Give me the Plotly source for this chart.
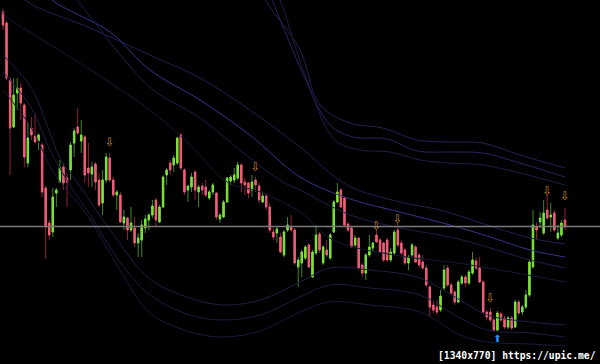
import plotly.graph_objects as go

# Candle values (price units; the y axis runs top-down)
bar = list(range(159))
open_ = [12,23,80,127,93,88,105,163,128,136,141,145,188,223,232,193,182,167,178,170,
         143,127,141,137,168,174,164,180,203,180,158,180,195,195,223,218,230,228,243,240,
         228,220,215,200,222,207,175,163,165,163,135,170,190,187,172,192,186,187,198,192,
         193,219,217,202,181,180,178,165,182,183,190,180,186,202,196,207,232,233,237,255,
         230,227,230,267,263,258,245,277,253,234,263,250,258,232,202,190,198,224,228,245,
         238,265,273,255,248,235,240,243,240,260,253,230,243,250,263,255,247,255,262,268,
         287,305,307,310,288,268,285,292,302,283,277,283,273,261,268,282,312,312,320,330,
         314,318,327,318,327,302,312,307,295,267,227,222,233,210,217,213,238,235,220]
close = [25,78,128,95,88,103,157,138,135,142,135,192,227,235,197,190,168,183,182,145,
         131,133,135,175,173,167,182,205,180,157,180,195,192,222,217,230,223,243,238,225,
         219,215,206,220,207,177,170,170,158,138,168,192,186,177,190,187,190,195,192,185,
         217,215,202,178,177,175,165,183,185,193,182,185,200,196,207,230,237,229,252,232,
         225,230,263,260,252,247,267,252,235,250,247,255,235,202,192,207,225,230,247,238,
         268,273,255,247,243,242,252,260,260,252,232,245,253,263,257,245,262,265,268,285,
         307,310,312,296,270,285,293,302,282,277,283,272,260,268,282,312,317,320,330,313,
         320,327,318,328,302,313,307,295,262,225,230,218,213,218,215,230,233,223,227]
high = [9,21,77,78,78,83,103,122,117,113,133,143,186,220,188,188,160,163,173,142,
        128,108,120,135,143,162,162,173,170,153,153,177,190,192,210,217,207,217,233,220,
        215,213,200,198,205,175,168,160,155,137,133,168,185,173,170,185,183,180,190,183,
        192,213,200,177,175,168,162,163,178,182,175,177,183,192,193,203,228,227,233,230,
        217,215,228,257,250,245,243,250,225,232,245,240,233,200,183,188,197,222,227,235,
        237,263,253,235,242,230,238,242,238,248,230,223,240,248,255,243,245,253,255,265,
        285,302,300,290,265,265,283,290,280,275,275,270,252,258,257,280,310,308,318,311,
        312,316,316,316,300,300,305,290,260,210,222,212,200,195,203,210,225,220,208]
low = [30,80,175,128,110,120,167,167,140,143,150,197,259,240,237,207,183,190,207,180,
       157,135,153,183,187,187,190,207,215,183,182,197,210,223,230,240,232,247,257,257,
       233,230,218,227,223,208,185,175,172,165,170,195,202,192,200,207,195,197,200,195,
       220,223,218,203,185,183,180,192,195,198,197,192,203,203,210,233,240,243,253,257,
       232,232,265,287,277,260,268,278,255,253,265,257,260,233,203,208,227,232,248,247,
       270,277,280,257,252,243,253,262,262,262,255,247,255,265,270,257,263,268,270,287,
       317,313,315,312,290,287,295,305,303,285,287,285,275,270,283,313,320,322,332,332,
       322,329,329,330,328,315,315,309,297,268,240,228,235,220,232,232,240,237,230]

# Signal arrows (bar index, level)
sell_bar = [30, 71, 105, 111, 137, 153, 158]
sell_lvl = [143, 168, 227, 220, 299, 192, 197]
buy_bar = [139]
buy_lvl = [339]

# Reference level line
ref_level = 226.5

# Band lines (bar index, level)
A1_i = [70.8, 73.7, 83.5, 89.1, 97.6, 106.8, 116.4, 125.7, 134.9, 145.3, 158]
A1_y = [-20, 0, 50, 105, 123, 128, 140, 142, 143, 155, 168]
A2_i = [72.8, 75.6, 83.5, 91.9, 98.4, 108, 116.4, 125.7, 134.9, 145.3, 158]
A2_y = [-20, 0, 67, 125, 137, 139, 151, 152, 153, 163, 177]
A3_i = [75.1, 77.9, 84.9, 93.3, 100.4, 108.8, 117.2, 125.7, 134.9, 145.3, 158]
A3_y = [-20, 0, 75, 140, 150, 152, 160, 163, 165, 173, 185]

B1_i = [2, 6.2, 24.5, 41.3, 55.4, 69.4, 83.5, 96.7, 111.6, 122.9, 136.1, 148.2, 158]
B1_y = [-20, 0, 28, 55, 78, 110, 147, 185, 202, 210, 225, 238, 244]
B2_i = [9, 13.8, 30.1, 41.3, 55.4, 69.4, 83.5, 97.6, 111.6, 125.7, 136.1, 148.2, 158]
B2_y = [-20, 0, 32, 70, 100, 135, 177, 199, 212, 225, 236, 250, 257]
B3_i = [16, 20.8, 41.3, 55.4, 69.4, 78.7, 83.5, 97.6, 111.6, 125.7, 136.1, 148.2, 158]
B3_y = [-20, 0, 87, 118, 158, 182, 190, 215, 228, 237, 247, 260, 268]
M_i = [-0.8, 1.1, 20.2, 41.3, 52.6, 63, 72.3, 83.5, 92.8, 111.6, 125.7, 139.7, 158]
M_y = [10, 17, 60, 110, 145, 182, 192, 212, 240, 256, 262, 270, 282]

C1_i = [0, 8, 12.4, 16, 20.8, 30.1, 41.3, 52.6, 61.9, 72.3, 83.5, 91.9, 103.2, 117.2, 128.5, 136.1, 148.2, 158]
C1_y = [55, 88, 125, 158, 182, 230, 279, 298, 305, 300, 282, 268, 270, 278, 300, 315, 322, 325]
C2_i = [0, 8, 13.2, 18.8, 24.5, 32.9, 41.3, 52.6, 61.9, 72.3, 83.5, 91.9, 103.2, 117.2, 128.5, 136.1, 148.2, 158]
C2_y = [72, 108, 150, 185, 215, 262, 295, 315, 320, 315, 297, 285, 288, 295, 318, 330, 333, 337]
C3_i = [0, 8, 14.6, 23.6, 32.9, 41.3, 52.6, 61.9, 72.3, 83.5, 91.9, 103.2, 117.2, 128.5, 136.1, 148.2, 158]
C3_y = [90, 128, 175, 215, 270, 313, 332, 337, 331, 312, 302, 305, 312, 335, 342, 344, 346]

RED_BODY = "#ee5f7a"
RED_WICK = "#8e2237"
GREEN_BODY = "#7ee23a"
GREEN_WICK = "#3f8a1c"

fig = go.Figure()

band_specs = [
    (A1_i, A1_y, "rgb(34,34,84)"), (A2_i, A2_y, "rgb(38,38,96)"), (A3_i, A3_y, "rgb(30,30,72)"),
    (B1_i, B1_y, "rgb(32,32,80)"), (B2_i, B2_y, "rgb(52,52,140)"), (B3_i, B3_y, "rgb(30,30,74)"),
    (M_i, M_y, "rgb(24,24,54)"),
    (C1_i, C1_y, "rgb(30,30,70)"), (C2_i, C2_y, "rgb(28,28,66)"), (C3_i, C3_y, "rgb(26,26,60)"),
]
for bi, by, col in band_specs:
    fig.add_trace(go.Scatter(x=bi, y=by, mode="lines", line=dict(color=col, width=1, shape="spline"),
                             hoverinfo="skip"))

fig.add_hline(y=ref_level, line=dict(color="#7a7a7a", width=1.5))

# wicks (axis runs top-down: numerically rising values are falling prices)
fig.add_trace(go.Candlestick(
    x=bar, open=open_, high=high, low=low, close=close,
    increasing=dict(line=dict(color=RED_WICK, width=1), fillcolor=RED_WICK),
    decreasing=dict(line=dict(color=GREEN_WICK, width=1), fillcolor=GREEN_WICK),
    whiskerwidth=0, hoverinfo="skip"))
# bodies
fig.add_trace(go.Candlestick(
    x=bar, open=open_, close=close,
    high=[max(o, c) for o, c in zip(open_, close)],
    low=[min(o, c) for o, c in zip(open_, close)],
    increasing=dict(line=dict(color=RED_BODY, width=1), fillcolor=RED_BODY),
    decreasing=dict(line=dict(color=GREEN_BODY, width=1), fillcolor=GREEN_BODY),
    whiskerwidth=0, hoverinfo="skip"))

fig.add_trace(go.Scatter(x=sell_bar, y=sell_lvl, mode="text", text=["⇩"] * len(sell_bar),
                         textfont=dict(family="DejaVu Sans", size=12, color="#c8822a"),
                         hoverinfo="skip"))
fig.add_trace(go.Scatter(x=buy_bar, y=buy_lvl, mode="text", text=["⬆"] * len(buy_bar),
                         textfont=dict(family="DejaVu Sans", size=10, color="#2a95ff"),
                         hoverinfo="skip"))

fig.add_annotation(text="<b>[1340x770] https://upic.me/</b>", xref="paper", yref="paper",
                   x=0.997, y=0.0, xanchor="right", yanchor="bottom", yshift=1, showarrow=False,
                   font=dict(family="DejaVu Sans Mono", size=9.7, color="#ffffff"))

fig.update_layout(
    width=600, height=364, margin=dict(l=0, r=0, t=0, b=0),
    paper_bgcolor="#000000", plot_bgcolor="#000000", showlegend=False,
    boxgap=0.45,
    xaxis=dict(range=[-0.84, 167.84], visible=False, rangeslider=dict(visible=False), fixedrange=True),
    yaxis=dict(range=[364, 0], visible=False, fixedrange=True),
)

fig.write_html("out.html")
